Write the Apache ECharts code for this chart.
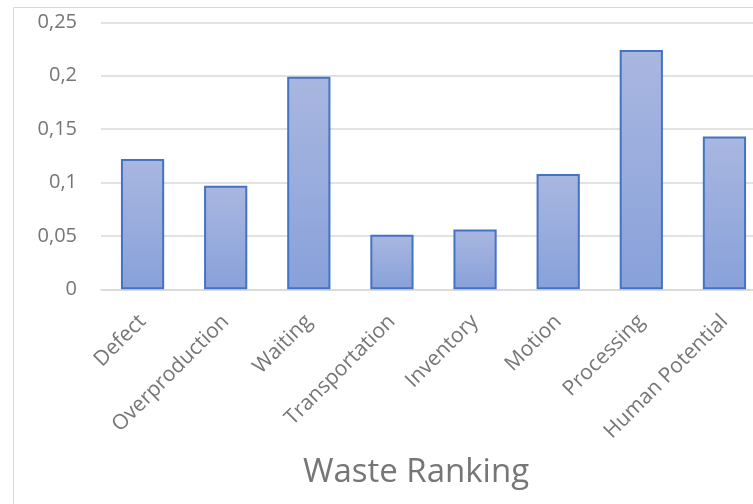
<!DOCTYPE html>
<html>
<head>
<meta charset="utf-8">
<script src="https://cdn.jsdelivr.net/npm/echarts@6/dist/echarts.min.js"></script>
<style>
  html, body { margin: 0; padding: 0; overflow: hidden; background: #fff; }
  #chart { width: 832px; height: 504px; }
</style>
</head>
<body>
<div id="chart"></div>
<script>
// Waste categories and their ranking weights
const categories = ['Defect', 'Overproduction', 'Waiting', 'Transportation', 'Inventory', 'Motion', 'Processing', 'Human Potential'];
const weights = [0.122, 0.097, 0.199, 0.051, 0.056, 0.108, 0.224, 0.143];
const yTicks = { min: 0, max: 0.25, step: 0.05 };
const chartTitle = 'Waste Ranking';

const textGray = '#767676';
const font = '"Open Sans", "Noto Sans", sans-serif';

const chart = echarts.init(document.getElementById('chart'), null, { renderer: 'canvas' });
chart.setOption({
  animation: false,
  backgroundColor: '#ffffff',
  graphic: [{
    type: 'rect',
    silent: true,
    shape: { x: 13.5, y: 7.5, width: 806, height: 620 },
    style: { fill: 'none', stroke: '#d9d9d9', lineWidth: 1 }
  }],
  title: {
    text: chartTitle,
    left: 'center',
    top: 451,
    textStyle: { fontFamily: font, fontSize: 33, fontWeight: 'normal', color: textGray }
  },
  grid: { left: 101, right: 66, top: 22.3, bottom: 214.7, containLabel: false },
  xAxis: {
    type: 'category',
    data: categories,
    axisLine: { show: true, lineStyle: { color: '#d9d9d9', width: 1.5 } },
    axisTick: { show: false },
    axisLabel: {
      rotate: 45,
      margin: 29,
      interval: 0,
      fontFamily: font,
      fontSize: 21,
      color: textGray
    }
  },
  yAxis: {
    type: 'value',
    min: yTicks.min,
    max: yTicks.max,
    interval: yTicks.step,
    axisLine: { show: false },
    axisTick: { show: false },
    splitLine: { lineStyle: { color: '#d9d9d9', width: 1.5 } },
    axisLabel: {
      margin: 24,
      fontFamily: font,
      fontSize: 20,
      color: textGray,
      formatter: v => String(Math.round(v * 100) / 100).replace('.', ',')
    }
  },
  series: [{
    type: 'bar',
    data: weights,
    barCategoryGap: '48%',
    itemStyle: {
      color: new echarts.graphic.LinearGradient(0, 0, 0, 1, [
        { offset: 0, color: '#a9b7e0' },
        { offset: 1, color: '#88a1da' }
      ]),
      borderColor: '#4472c4',
      borderWidth: 2
    }
  }]
});
</script>
</body>
</html>
